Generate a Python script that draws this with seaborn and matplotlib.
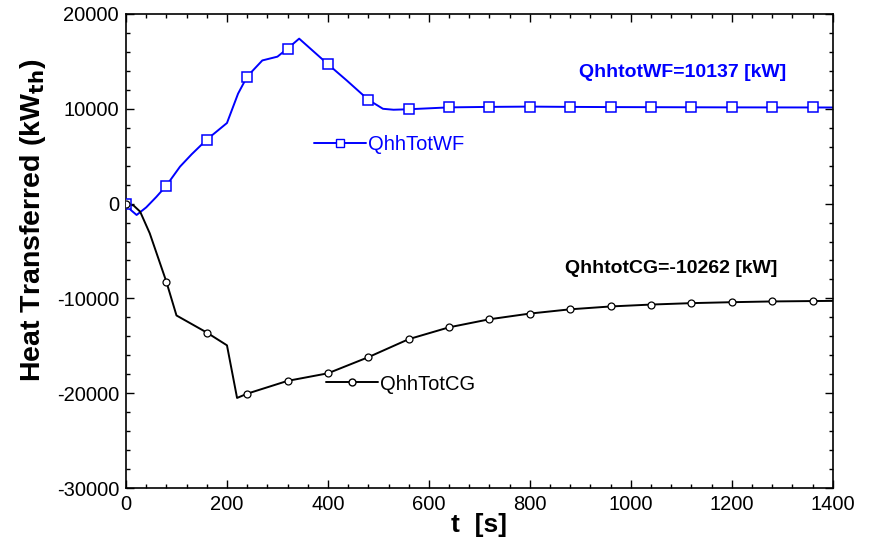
import matplotlib
matplotlib.use("Agg")
import matplotlib.pyplot as plt
from matplotlib.lines import Line2D
from matplotlib.ticker import MultipleLocator
import seaborn as sns
import pandas as pd

# QhhTotWF (working fluid) curve, t [s] -> kW
wf_t = [0, 10, 21, 40, 60, 80, 107, 130, 160, 200, 222, 240, 270, 300, 320, 343,
        400, 437, 480, 509, 530, 560, 640, 720, 800, 880, 960, 1040, 1120, 1200,
        1280, 1360, 1400]
wf_q = [0, -700, -1200, -400, 700, 1900, 3900, 5200, 6750, 8500, 11600, 13400,
        15100, 15500, 16350, 17400, 14700, 13000, 10950, 10000, 9900, 9950, 10150,
        10200, 10230, 10200, 10180, 10170, 10160, 10150, 10145, 10140, 10137]

# QhhTotCG (cover gas) curve
cg_t = [0, 15, 28, 47, 80, 100, 160, 200, 220, 240, 320, 400, 480, 560, 640, 720,
        800, 880, 960, 1040, 1120, 1200, 1280, 1360, 1400]
cg_q = [0, -200, -850, -3130, -8250, -11800, -13600, -14950, -20500, -20050,
        -18700, -17900, -16200, -14300, -13050, -12200, -11600, -11150, -10850,
        -10650, -10500, -10400, -10320, -10280, -10262]

wf = pd.DataFrame({"t": wf_t, "q": wf_q})
cg = pd.DataFrame({"t": cg_t, "q": cg_q})
wf_mk = wf[(wf.t % 80 == 0) & (wf.t < 1400)]
cg_mk = cg[(cg.t % 80 == 0) & (cg.t < 1400)]

sns.set_style("ticks")
plt.rcParams["font.family"] = ["Liberation Sans", "DejaVu Sans"]
plt.rcParams["axes.unicode_minus"] = False
plt.rcParams["text.color"] = "black"
plt.rcParams["axes.labelcolor"] = "black"

fig = plt.figure(figsize=(8.72, 5.55), dpi=100)
ax = fig.add_axes([0.1445, 0.1207, 0.8105, 0.8541])

blue = "#0000ff"
sns.lineplot(data=wf, x="t", y="q", ax=ax, color=blue, lw=1.4, zorder=2)
sns.lineplot(data=cg, x="t", y="q", ax=ax, color="black", lw=1.4, zorder=2)
ax.plot(wf_mk.t, wf_mk.q, ls="none", marker="s", ms=7, mfc="white", mec=blue,
        mew=1.1, zorder=3)
ax.plot(cg_mk.t, cg_mk.q, ls="none", marker="o", ms=5, mfc="white", mec="black",
        mew=0.9, zorder=3)

ax.set_xlim(0, 1400)
ax.set_ylim(-30000, 20000)
ax.xaxis.set_major_locator(MultipleLocator(200))
ax.xaxis.set_minor_locator(MultipleLocator(40))
ax.yaxis.set_major_locator(MultipleLocator(10000))
ax.yaxis.set_minor_locator(MultipleLocator(2000))
ax.tick_params(which="both", direction="in", top=True, right=True, labelsize=14.5,
               colors="black", width=1)
ax.tick_params(which="major", length=6, pad=5)
ax.tick_params(which="minor", length=3)
for s in ax.spines.values():
    s.set_visible(True)
    s.set_color("black")
    s.set_linewidth(1.2)

ax.set_xlabel("t  [s]", fontsize=19, fontweight="bold", labelpad=-1, color="black")
ax.set_ylabel("Heat Transferred (kW$_{\\mathbf{th}}$)", fontsize=20.5,
              fontweight="bold", color="black")
ax.yaxis.set_label_coords(-0.111, 0.565)

# legends
h1 = Line2D([], [], color=blue, lw=1.4, marker="s", ms=6, mfc="white", mec=blue)
h2 = Line2D([], [], color="black", lw=1.4, marker="o", ms=5, mfc="white", mec="black")
leg1 = ax.legend([h1], ["QhhTotWF"], loc="center left", frameon=False,
                 bbox_to_anchor=(314 / 872, 1 - 145 / 555), bbox_transform=fig.transFigure,
                 borderpad=0, borderaxespad=0, handlelength=2.6, handletextpad=0.1,
                 numpoints=1, fontsize=14.5, labelcolor=blue)
ax.add_artist(leg1)
ax.legend([h2], ["QhhTotCG"], loc="center left", frameon=False,
          bbox_to_anchor=(326 / 872, 1 - 384 / 555), bbox_transform=fig.transFigure,
          borderpad=0, borderaxespad=0, handlelength=2.6, handletextpad=0.1,
          numpoints=1, fontsize=14.5, labelcolor="black")

ax.text(1103, 13800, "QhhtotWF=10137 [kW]", color=blue, fontsize=14,
        fontweight="bold", ha="center", va="center")
ax.text(1079, -6800, "QhhtotCG=-10262 [kW]", color="black", fontsize=14,
        fontweight="bold", ha="center", va="center")

fig.savefig("out.png", dpi=100)
